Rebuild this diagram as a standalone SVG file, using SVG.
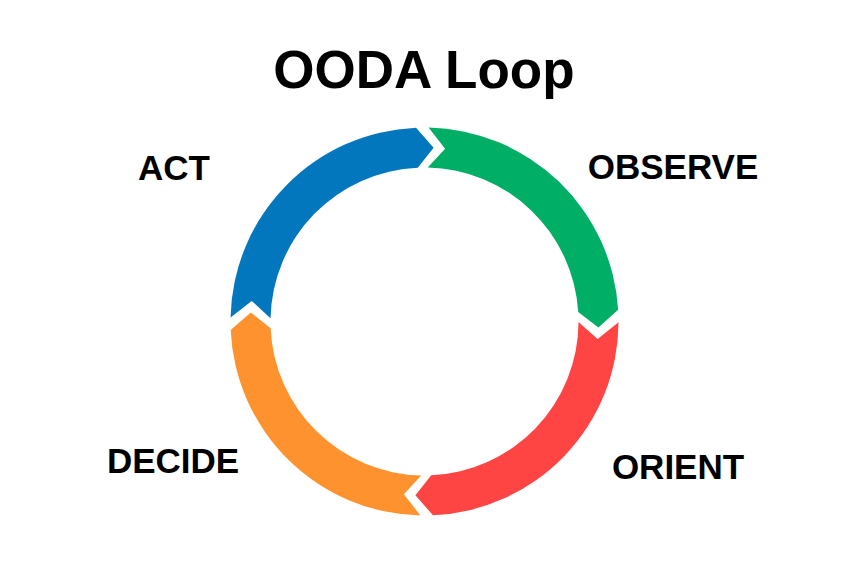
<svg xmlns="http://www.w3.org/2000/svg" width="856" height="571" viewBox="0 0 856 571">
  <style>
    .title { font-family: "Liberation Sans", Arial, sans-serif; font-weight: bold; font-size: 53px; fill: #000; text-anchor: middle; }
    .label { font-family: "Liberation Sans", Arial, sans-serif; font-weight: bold; font-size: 35px; fill: #000; text-anchor: middle; }
  </style>
  <rect width="856" height="571" fill="#fff"/>
  <text class="title" x="424" y="88">OODA Loop</text>
  <g id="ring" transform="translate(424.5,321.5)">
    <g id="observe-arrow">
      <path fill="#00AE66" d="M 4.06,-193.96 A 194 194 0 0 1 193.64,-11.84 L 173.89,6.07 L 153.71,-9.40 A 154 154 0 0 0 3.23,-153.97 L 20.60,-172.78 Z"/>
    </g>
    <g id="orient-arrow">
      <path fill="#FF4444" d="M 194.00,0.68 A 194 194 0 0 1 8.46,193.82 L -9.11,173.76 L 6.72,153.85 A 154 154 0 0 0 154.00,0.54 L 173.11,17.58 Z"/>
    </g>
    <g id="decide-arrow">
      <path fill="#FD922F" d="M -4.06,193.96 A 194 194 0 0 1 -193.82,8.46 L -173.76,-9.11 L -153.85,6.72 A 154 154 0 0 0 -3.23,153.97 L -20.60,172.78 Z"/>
    </g>
    <g id="act-arrow">
      <path fill="#0277BE" d="M -193.96,-4.06 A 194 194 0 0 1 -8.46,-193.82 L 9.11,-173.76 L -6.72,-153.85 A 154 154 0 0 0 -153.97,-3.23 L -172.78,-20.60 Z"/>
    </g>
  </g>
  <g id="observe"><text class="label" x="673" y="179">OBSERVE</text></g>
  <g id="orient"><text class="label" x="678" y="479">ORIENT</text></g>
  <g id="decide"><text class="label" x="173" y="473">DECIDE</text></g>
  <g id="act"><text class="label" x="174" y="180">ACT</text></g>
</svg>
